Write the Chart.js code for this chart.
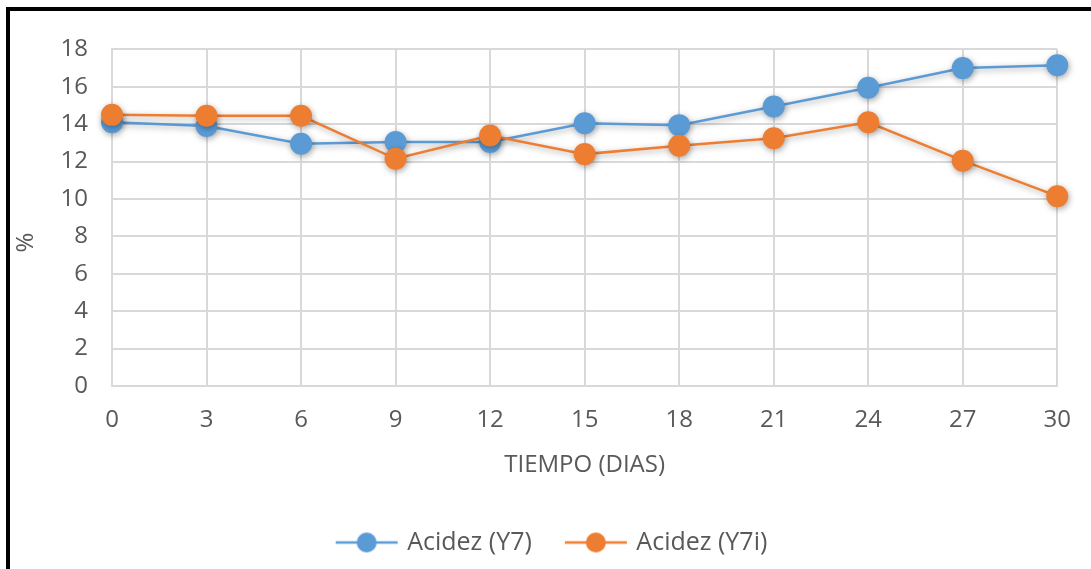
<!DOCTYPE html>
<html>
<head>
<meta charset="utf-8">
<script src="https://cdn.jsdelivr.net/npm/chart.js@4.4.1/dist/chart.umd.min.js"></script>
<style>
  body { margin: 0; background: #fff; overflow: hidden; }
  .marco {
    position: absolute; left: 6px; top: 7px;
    border-top: 4px solid #000; border-left: 4px solid #000;
    width: 1081px; height: 558px;
  }
  canvas { display: block; }
</style>
</head>
<body>
<div class="marco"><canvas id="grafico" width="1081" height="558"></canvas></div>
<script>
// datos
const dias = ['0', '3', '6', '9', '12', '15', '18', '21', '24', '27', '30'];
const acidezY7 = [14.1, 13.9, 12.95, 13.05, 13.05, 14.05, 13.95, 14.95, 15.95, 17.0, 17.15];
const acidezY7i = [14.5, 14.45, 14.45, 12.15, 13.4, 12.4, 12.85, 13.25, 14.1, 12.05, 10.15];
const ticksY = [0, 2, 4, 6, 8, 10, 12, 14, 16, 18];

const azul = '#5B9BD5';
const naranja = '#ED7D31';
const gris = '#595959';
const fuente = { family: "'Open Sans', sans-serif", size: 24 };

// icono de leyenda: linea con punto
function iconoLeyenda(color) {
  const c = document.createElement('canvas');
  c.width = 92; c.height = 24;
  const ctx = c.getContext('2d');
  ctx.strokeStyle = color;
  ctx.lineWidth = 2.5;
  ctx.beginPath();
  ctx.moveTo(28, 12); ctx.lineTo(90, 12);
  ctx.stroke();
  ctx.fillStyle = color;
  ctx.beginPath();
  ctx.arc(59, 12, 10, 0, Math.PI * 2);
  ctx.fill();
  return c;
}

// sombra de las series
const sombra = {
  id: 'sombra',
  beforeDatasetDraw(chart) {
    const ctx = chart.ctx;
    ctx.save();
    ctx.shadowColor = 'rgba(0,0,0,0.35)';
    ctx.shadowBlur = 6;
    ctx.shadowOffsetX = 1;
    ctx.shadowOffsetY = 2;
  },
  afterDatasetDraw(chart) {
    chart.ctx.restore();
  }
};

function serie(label, data, color, order) {
  return {
    label: label,
    data: data,
    borderColor: color,
    backgroundColor: color,
    borderWidth: 2.5,
    pointRadius: 11,
    pointBorderWidth: 0,
    pointBackgroundColor: color,
    pointStyle: 'circle',
    legendIcon: iconoLeyenda(color),
    tension: 0,
    clip: false,
    order: order
  };
}

// la serie Y7i va por encima
const datasets = [
  serie('Acidez (Y7)', acidezY7, azul, 1),
  serie('Acidez (Y7i)', acidezY7i, naranja, 0)
];

new Chart(document.getElementById('grafico'), {
  type: 'line',
  data: { labels: dias, datasets: datasets },
  options: {
    responsive: false,
    animation: false,
    layout: { autoPadding: false, padding: { top: 29, right: 21, left: 0, bottom: 4 } },
    scales: {
      x: {
        grid: { color: '#d9d9d9', lineWidth: 2, drawTicks: false },
        border: { color: '#d9d9d9', width: 2 },
        ticks: { color: gris, font: fuente, padding: 20, maxRotation: 0 },
        title: { display: true, text: 'TIEMPO (DIAS)', color: gris, font: fuente, padding: { top: 10, bottom: 40 } },
        afterFit: s => { s.height = 134; }
      },
      y: {
        min: 0, max: 18,
        afterBuildTicks: s => { s.ticks = ticksY.map(v => ({ value: v })); },
        grid: { color: '#d9d9d9', lineWidth: 2, drawTicks: false },
        border: { color: '#d9d9d9', width: 2 },
        ticks: { color: gris, font: fuente, padding: 24 },
        title: { display: true, text: '%\u00a0\u00a0\u00a0\u00a0\u00a0\u00a0\u00a0\u00a0', color: gris, font: fuente, padding: { top: 2, bottom: 0 } },
        afterFit: s => { s.width = 102; }
      }
    },
    plugins: {
      legend: {
        position: 'bottom',
        labels: {
          usePointStyle: true,
          pointStyleWidth: 82,
          color: gris,
          font: { family: fuente.family, size: 25 },
          padding: 10,
          generateLabels(chart) {
            return chart.data.datasets.map((d, i) => ({
              text: d.label,
              fillStyle: d.borderColor,
              strokeStyle: d.borderColor,
              fontColor: gris,
              lineWidth: 0,
              pointStyle: d.legendIcon,
              hidden: !chart.isDatasetVisible(i),
              datasetIndex: i
            }));
          }
        }
      },
      tooltip: { enabled: false }
    }
  },
  plugins: [sombra]
});
</script>
</body>
</html>
